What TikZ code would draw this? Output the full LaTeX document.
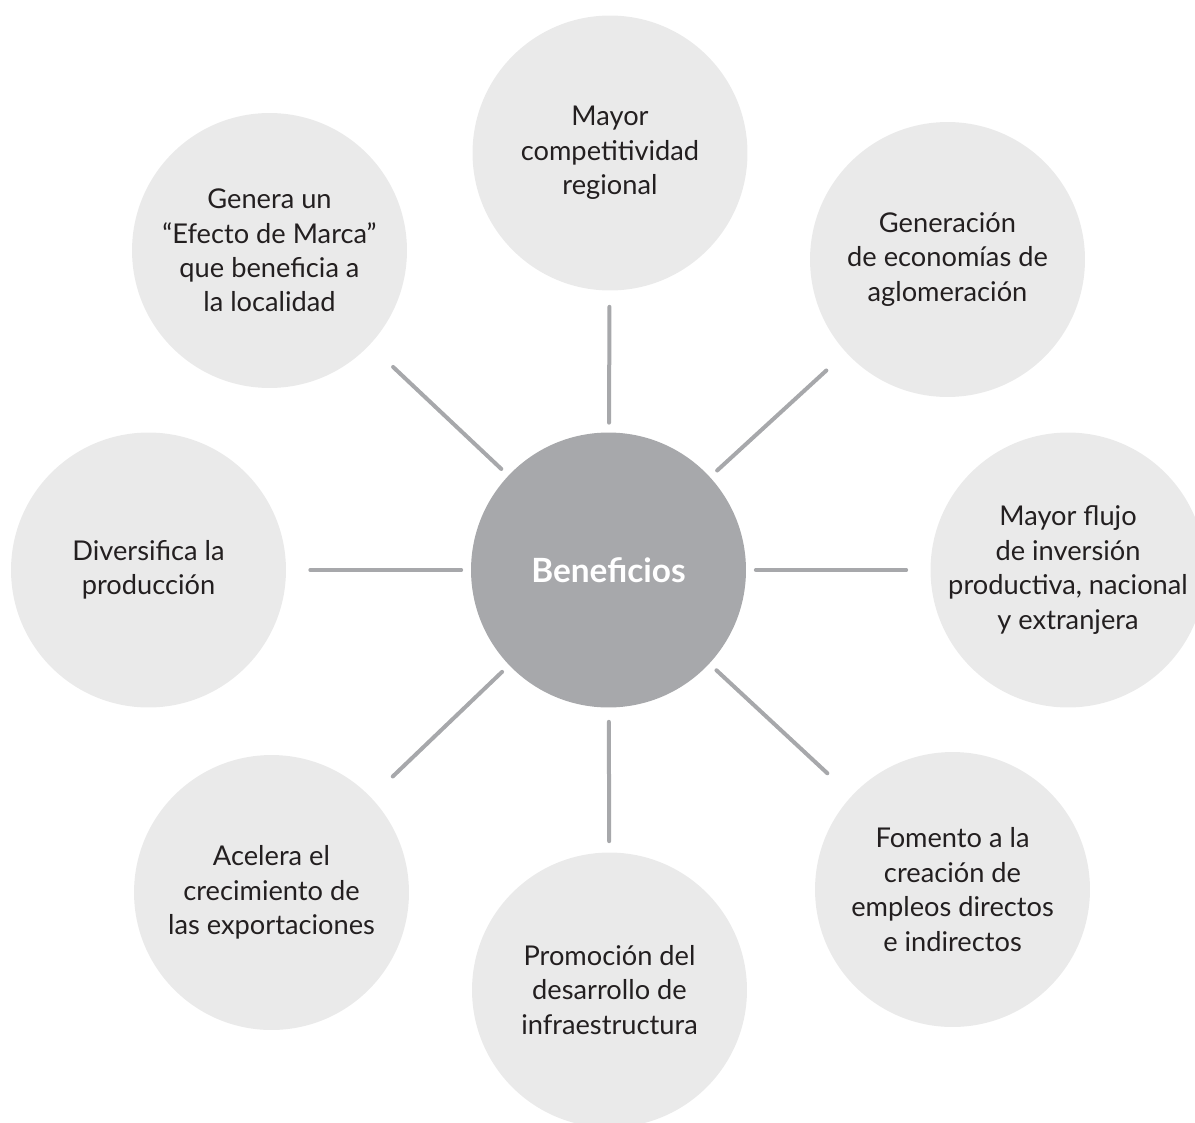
\documentclass[tikz,border=0pt]{standalone}
\usepackage{fontspec}
\setmainfont{Lato}
\usetikzlibrary{calc}
\definecolor{bubblegray}{HTML}{EAEAEA}
\definecolor{coregray}{HTML}{A7A8AB}
\definecolor{inkgray}{HTML}{231F20}

\begin{document}
\begin{tikzpicture}[
                    x=0.02cm, y=-0.02cm,
                    bubble/.style={circle, fill=bubblegray, minimum size=5.5cm, inner sep=0pt, align=center, text=inkgray, font=\fontsize{15.5}{19.6}\selectfont},
                    core/.style={circle, fill=coregray, minimum size=5.5cm, inner sep=0pt, text=white, font=\fontsize{19}{23}\selectfont\bfseries},
                    spoke/.style={draw=coregray, line width=0.08cm, line cap=round, shorten <=0.19cm}
                ]
                    \clip (0,0) rectangle (1195,1122);

                    \node[core] (benef) at (608.5,570) {Beneficios};
                    \node[bubble] (compet) at (610,153) {Mayor\\competitividad\\regional};
                    \node[bubble] (aglom) at (947.5,259.5) {Generación\\de economías de\\aglomeración};
                    \node[bubble] (flujo) at (1068,570) {Mayor flujo\\de inversión\\productiva, nacional\\y extranjera};
                    \node[bubble] (empleo) at (952.5,889.5) {Fomento a la\\creación de\\empleos directos\\e indirectos};
                    \node[bubble] (infra) at (609.5,990) {Promoción del\\desarrollo de\\infraestructura};
                    \node[bubble] (export) at (271.5,892.5) {Acelera el\\crecimiento de\\las exportaciones};
                    \node[bubble] (divers) at (148.5,570) {Diversifica la\\producción};
                    \node[bubble] (marca) at (269.5,250.5) {Genera un\\“Efecto de Marca”\\que beneficia a\\la localidad};

                    \draw[spoke, shorten >=0.32cm] (benef) -- (compet);
                    \draw[spoke, shorten >=0.53cm] (benef) -- (aglom);
                    \draw[spoke, shorten >=0.48cm] (benef) -- (flujo);
                    \draw[spoke, shorten >=0.66cm] (benef) -- (empleo);
                    \draw[spoke, shorten <=0.28cm, shorten >=0.22cm] (benef) -- (infra);
                    \draw[spoke, shorten >=0.60cm] (benef) -- (export);
                    \draw[spoke, shorten >=0.48cm] (benef) -- (divers);
                    \draw[spoke, shorten >=0.64cm] (benef) -- (marca);

                \end{tikzpicture}
\end{document}
